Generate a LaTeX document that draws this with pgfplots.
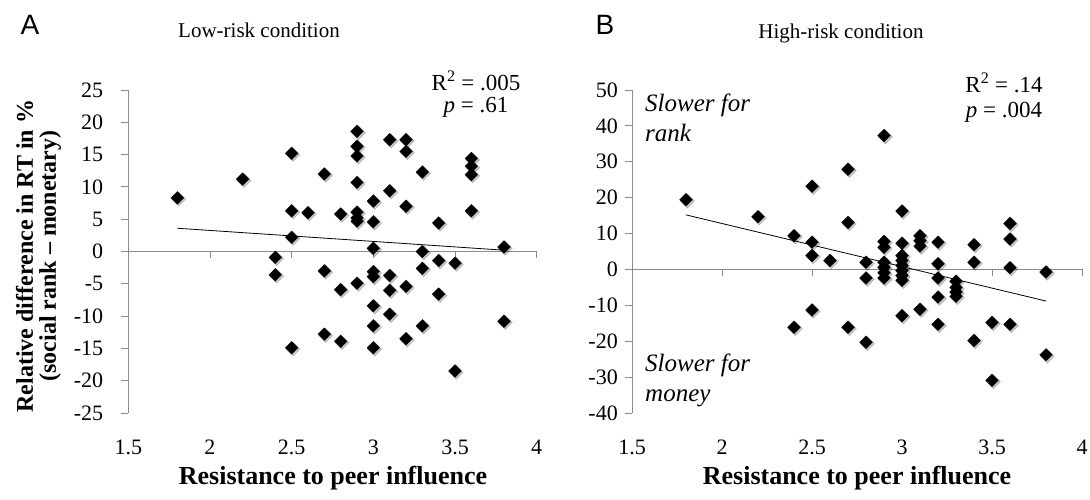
\documentclass[border=0pt]{standalone}
\usepackage{fontspec}
\setmainfont{Liberation Serif}
\newfontfamily\panelfont{Liberation Sans}
\usepackage{pgfplots}
\usepackage{pgfplotstable}
\pgfplotsset{compat=1.18}

\definecolor{axisgray}{RGB}{140,140,140}
\tikzset{zeroline/.style={axisgray, line width=0.9pt}}

% Relative RT difference (social rank - monetary) vs. resistance to peer influence
\pgfplotstableread{
x y
1.8 8.3
2.2 11.2
2.4 -0.9
2.4 -3.6
2.5 15.2
2.5 6.3
2.5 2.2
2.5 -14.9
2.6 6.0
2.7 12.0
2.7 -3.0
2.7 -12.8
2.8 5.8
2.8 -5.9
2.8 -13.9
2.9 18.6
2.9 16.3
2.9 14.8
2.9 10.7
2.9 6.1
2.9 5.2
2.9 4.7
2.9 -4.9
3.0 7.8
3.0 4.6
3.0 0.5
3.0 -3.1
3.0 -3.9
3.0 -8.4
3.0 -11.5
3.0 -14.9
3.1 17.3
3.1 9.4
3.1 -3.7
3.1 -6.0
3.1 -9.7
3.2 17.3
3.2 15.5
3.2 7.0
3.2 -5.4
3.2 -13.5
3.3 12.3
3.3 0.0
3.3 -2.6
3.3 -11.5
3.4 4.4
3.4 -1.4
3.4 -6.6
3.5 -1.8
3.5 -18.5
3.6 14.4
3.6 13.2
3.6 11.9
3.6 6.3
3.8 0.7
3.8 -10.8
}\lowrisk

\pgfplotstableread{
x y
1.8 19.4
2.2 14.7
2.4 9.4
2.4 -16.1
2.5 23.2
2.5 7.6
2.5 3.9
2.5 -11.3
2.6 2.5
2.7 27.9
2.7 13.1
2.7 -16.1
2.8 2.0
2.8 -2.4
2.8 -20.3
2.9 37.3
2.9 7.8
2.9 6.2
2.9 2.0
2.9 0.6
2.9 -0.9
2.9 -2.4
3.0 16.3
3.0 7.3
3.0 3.9
3.0 2.5
3.0 1.1
3.0 -0.3
3.0 -1.7
3.0 -3.0
3.0 -12.9
3.1 9.4
3.1 8.0
3.1 6.5
3.1 -11.1
3.2 7.6
3.2 1.6
3.2 -2.4
3.2 -7.7
3.2 -15.3
3.3 -3.3
3.3 -5.0
3.3 -6.3
3.3 -7.5
3.4 6.9
3.4 2.0
3.4 -19.8
3.5 -14.8
3.5 -30.9
3.6 12.8
3.6 8.5
3.6 0.5
3.6 -15.3
3.8 -0.7
3.8 -23.8
}\highrisk

\pgfplotsset{
  scatterpanel/.style={
    scale only axis,
    height=323pt,
    xmin=1.5, xmax=4,
    xtick={1.5,2,2.5,3,3.5,4},
    axis y line*=left,
    axis x line*=bottom,
    x axis line style={draw=none},
    xtick style={draw=none},
    y axis line style={axisgray, line width=0.9pt},
    ytick style={axisgray, line width=0.9pt},
    tick align=outside,
    major tick length=7pt,
    /pgf/number format/assume math mode=true,
    tick label style={font=\fontsize{22}{26}\selectfont, inner sep=0pt},
    xticklabel style={anchor=center, yshift=-27pt},
    clip=false,
  },
  shadowmarks/.style={only marks, mark=square*, mark size=5pt,
    mark options={xshift=1.3pt, yshift=-1.3pt, rotate=45, draw=none, fill=black, opacity=0.22}},
  diamonds/.style={only marks, mark=square*, mark size=4.5pt,
    mark options={rotate=45, draw=black, fill=black, line width=0.3pt}},
  trend/.style={black, line width=0.8pt, no marks},
}

\begin{document}
\begin{tikzpicture}
\path[use as bounding box] (0,0) rectangle (1090pt,500pt);

% Panel A: low-risk condition
\begin{axis}[scatterpanel,
  at={(128.3pt,87pt)}, anchor=south west,
  width=408.4pt,
  ymin=-25, ymax=25,
  ytick={-25,-20,-15,-10,-5,0,5,10,15,20,25},
  yticklabel style={anchor=east, xshift=-18pt},
]
  \draw[zeroline] (axis cs:1.5,0) -- (axis cs:4,0);
  \pgfplotsinvokeforeach{2,2.5,3,3.5,4}{
    \draw[zeroline] (axis cs:#1,0) -- ([yshift=-7pt]axis cs:#1,0);
  }
  \addplot[trend] coordinates {(1.8,3.6) (3.8,0.2)};
  \addplot[shadowmarks] table[x=x, y=y] {\lowrisk};
  \addplot[diamonds] table[x=x, y=y] {\lowrisk};
\end{axis}

% Panel B: high-risk condition
\begin{axis}[scatterpanel,
  at={(632pt,87pt)}, anchor=south west,
  width=450pt,
  ymin=-40, ymax=50,
  ytick={-40,-30,-20,-10,0,10,20,30,40,50},
  yticklabel style={anchor=east, xshift=-7pt},
]
  \draw[zeroline] (axis cs:1.5,0) -- (axis cs:4,0);
  \pgfplotsinvokeforeach{2,2.5,3,3.5,4}{
    \draw[zeroline] (axis cs:#1,0) -- ([yshift=-7pt]axis cs:#1,0);
  }
  \addplot[trend] coordinates {(1.8,15.2) (3.8,-8.8)};
  \addplot[shadowmarks] table[x=x, y=y] {\highrisk};
  \addplot[diamonds] table[x=x, y=y] {\highrisk};
\end{axis}

% panel letters and titles
\node[font=\panelfont\fontsize{28}{32}\selectfont] at (30pt,475pt) {A};
\node[font=\panelfont\fontsize{28}{32}\selectfont] at (605pt,475pt) {B};
\node[font=\fontsize{21}{25}\selectfont] at (259pt,470pt) {Low-risk condition};
\node[font=\fontsize{21}{25}\selectfont] at (841pt,467pt) {High-risk condition};

% axis titles
\node[font=\bfseries\fontsize{24}{23}\selectfont, rotate=90, align=center]
  at (38.5pt,244pt) {Relative difference in RT in \%\\(social rank – monetary)};
\node[font=\bfseries\fontsize{26}{28}\selectfont] at (333pt,22pt) {Resistance to peer influence};
\node[font=\bfseries\fontsize{26}{28}\selectfont] at (857pt,22pt) {Resistance to peer influence};

% fit statistics
\node[font=\fontsize{23}{22}\selectfont, align=center] at (476pt,406pt)
  {R\textsuperscript{2} = .005\\\textit{p} = .61};
\node[font=\fontsize{23}{25}\selectfont, align=center] at (1004pt,402pt)
  {R\textsuperscript{2} = .14\\\textit{p} = .004};

% direction annotations
\node[font=\itshape\fontsize{25}{30}\selectfont, anchor=base west, inner sep=0pt] at (645pt,388.3pt) {Slower for};
\node[font=\itshape\fontsize{25}{30}\selectfont, anchor=base west, inner sep=0pt] at (645pt,358.3pt) {rank};
\node[font=\itshape\fontsize{25}{30}\selectfont, anchor=base west, inner sep=0pt] at (645pt,128.3pt) {Slower for};
\node[font=\itshape\fontsize{25}{30}\selectfont, anchor=base west, inner sep=0pt] at (645pt,98.3pt) {money};
\end{tikzpicture}
\end{document}
